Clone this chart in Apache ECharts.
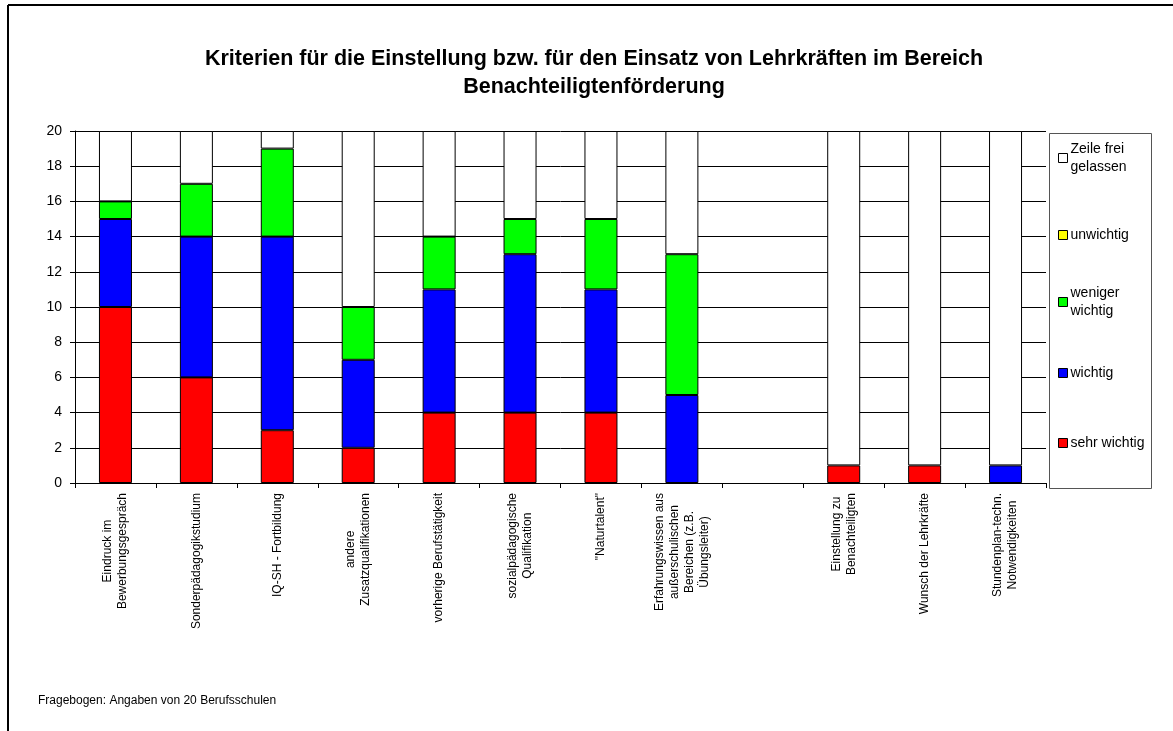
<!DOCTYPE html>
<html>
<head>
<meta charset="utf-8">
<title>Kriterien für die Einstellung</title>
<script src="https://cdn.jsdelivr.net/npm/echarts@6/dist/echarts.min.js"></script>
<style>
  html, body { margin: 0; padding: 0; background: #fff; }
  #chart { width: 1173px; height: 731px; }
</style>
</head>
<body>
<div id="chart"></div>
<script>
// Kategorien (leerer Platz zwischen Gruppe 1 und Gruppe 2)
const categories = [
  'Eindruck im\nBewerbungsgespräch',
  'Sonderpädagogikstudium',
  'IQ-SH - Fortbildung',
  'andere\nZusatzqualifikationen',
  'vorherige Berufstätigkeit',
  'sozialpädagogische\nQualifikation',
  '"Naturtalent"',
  'Erfahrungswissen aus\naußerschulischen\nBereichen (z.B.\nÜbungsleiter)',
  '',
  'Einstellung zu\nBenachteiligten',
  'Wunsch der Lehrkräfte',
  'Stundenplan-techn.\nNotwendigkeiten'
];

// Anzahl der Nennungen je Antwortstufe
const sehrWichtig    = [10, 6, 3, 2, 4, 4, 4, 0, 0, 1, 1, 0];
const wichtig        = [5, 8, 11, 5, 7, 9, 7, 5, 0, 0, 0, 1];
const wenigerWichtig = [1, 3, 5, 3, 3, 2, 4, 8, 0, 0, 0, 0];
const unwichtig      = [0, 0, 0, 0, 0, 0, 0, 0, 0, 0, 0, 0];
const zeileFrei      = [4, 3, 1, 10, 6, 5, 5, 7, 0, 19, 19, 19];

const yTicks = { min: 0, max: 20, interval: 2 };

const seriesNames = ['sehr wichtig', 'wichtig', 'weniger wichtig', 'unwichtig', 'Zeile frei gelassen'];
const seriesColors = ['#ff0000', '#0000ff', '#00ff00', '#ffff00', '#ffffff'];
const seriesData = [sehrWichtig, wichtig, wenigerWichtig, unwichtig, zeileFrei];

const FONT = '"Liberation Sans", Arial, Helvetica, sans-serif';

const chart = echarts.init(document.getElementById('chart'), null, { renderer: 'canvas' });

// Nullwerte werden nicht gezeichnet (kein Randstrich für leere Segmente)
const series = seriesNames.map((name, i) => ({
  name: name,
  type: 'bar',
  stack: 'gesamt',
  barWidth: 33,
  data: seriesData[i].map(v => (v === 0 ? '-' : v)),
  itemStyle: { color: seriesColors[i], borderColor: '#000', borderWidth: 1 },
  emphasis: { disabled: true }
}));

// Legende: je Eintrag eine eigene Komponente, von oben nach unten
const legendLabels = {
  'Zeile frei gelassen': 'Zeile frei\ngelassen',
  'unwichtig': 'unwichtig',
  'weniger wichtig': 'weniger\nwichtig',
  'wichtig': 'wichtig',
  'sehr wichtig': 'sehr wichtig'
};
const legendOrder = ['Zeile frei gelassen', 'unwichtig', 'weniger wichtig', 'wichtig', 'sehr wichtig'];
const legendIconCenters = [158, 235, 302, 373, 443];
const LH = 18;
const legends = legendOrder.map((name, i) => {
  const twoLines = legendLabels[name].indexOf('\n') >= 0;
  return {
    data: [name],
    left: 1058,
    top: twoLines ? legendIconCenters[i] - LH * 1.5 : legendIconCenters[i] - LH / 2,
    padding: 0,
    itemWidth: 9,
    itemHeight: 9,
    icon: 'rect',
    selectedMode: false,
    itemStyle: { borderColor: '#000', borderWidth: 1 },
    formatter: n => legendLabels[n],
    textStyle: {
      fontFamily: FONT,
      fontSize: 14,
      color: '#000',
      lineHeight: LH,
      padding: twoLines ? [LH, 0, 0, -2] : [0, 0, 0, -2]
    }
  };
});

const option = {
  animation: false,
  backgroundColor: '#fff',
  title: {
    text: 'Kriterien für die Einstellung bzw. für den Einsatz von Lehrkräften im Bereich\nBenachteiligtenförderung',
    left: 594,
    textAlign: 'center',
    top: 45,
    padding: 0,
    textStyle: {
      fontFamily: FONT,
      fontSize: 21.5,
      fontWeight: 'bold',
      color: '#000',
      lineHeight: 28
    }
  },
  legend: legends,
  grid: { left: 75, right: 127, top: 131, bottom: 248, containLabel: false },
  xAxis: {
    type: 'category',
    data: categories,
    boundaryGap: true,
    axisLine: { lineStyle: { color: '#000', width: 1 } },
    axisTick: { show: true, length: 5, lineStyle: { color: '#000' } },
    axisLabel: {
      rotate: 90,
      interval: 0,
      margin: 10,
      color: '#000',
      fontFamily: FONT,
      fontSize: 12,
      lineHeight: 15,
      formatter: v => v ? v.split('\n').map(s => '{c|' + s + '}').join('\n') : '',
      rich: {
        c: { align: 'center', fontFamily: FONT, fontSize: 12, lineHeight: 15, color: '#000' }
      }
    },
    splitLine: { show: false }
  },
  yAxis: {
    type: 'value',
    min: yTicks.min,
    max: yTicks.max,
    interval: yTicks.interval,
    axisLine: { show: true, lineStyle: { color: '#000', width: 1 } },
    axisTick: { show: true, length: 5, lineStyle: { color: '#000' } },
    axisLabel: { color: '#000', fontFamily: FONT, fontSize: 14, margin: 13 },
    splitLine: { show: true, lineStyle: { color: '#000', width: 1 } }
  },
  graphic: [
    // Rahmen um das Diagramm (links und oben)
    { type: 'line', shape: { x1: 8, y1: 5, x2: 8, y2: 731 }, style: { stroke: '#000', lineWidth: 2 }, silent: true },
    { type: 'line', shape: { x1: 8, y1: 5, x2: 1173, y2: 5 }, style: { stroke: '#000', lineWidth: 2 }, silent: true },
    // Kasten der Legende
    { type: 'rect', shape: { x: 1049.5, y: 133.5, width: 102, height: 355 }, style: { fill: 'none', stroke: '#555', lineWidth: 1 }, silent: true, z: -1 },
    // Quellenangabe
    { type: 'text', left: 38, top: 695, style: { text: 'Fragebogen: Angaben von 20 Berufsschulen', font: '12px ' + FONT, fill: '#000' }, silent: true }
  ],
  series: series
};

chart.setOption(option);
</script>
</body>
</html>
